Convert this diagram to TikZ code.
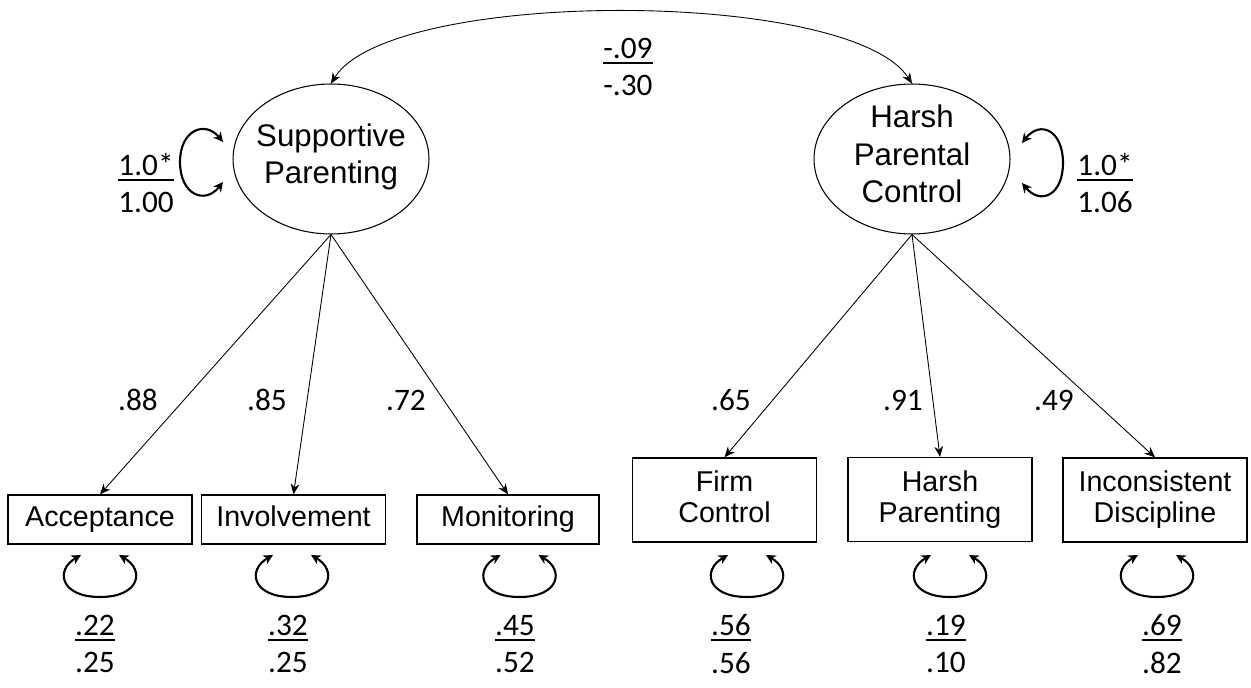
\documentclass[tikz,border=0pt]{standalone}
\usepackage{fontspec}
\setmainfont{Liberation Sans}
\newfontfamily\numfont{Carlito}
\usetikzlibrary{arrows.meta,calc,shapes.geometric}
\newcommand\estline[1]{\setbox0\hbox{#1}\rlap{\rule[-3.2pt]{\wd0}{1pt}}\box0}

\begin{document}
\begin{tikzpicture}[x=0.02cm,y=-0.02cm,>=Stealth,
    latent/.style={draw,ellipse,line width=0.6pt,minimum width=3.92cm,minimum height=3cm,inner sep=0pt},
    lattext/.style={align=center,font=\fontsize{17.8}{21.2}\selectfont},
    manifest/.style={draw,line width=0.7pt,minimum width=3.68cm,minimum height=0.98cm,inner sep=0pt,align=center,font=\fontsize{16.3}{17.6}\selectfont},
    oneline/.style={text height=12pt,text depth=3.5pt},
    est/.style={align=center,inner sep=0pt,font=\numfont\fontsize{17.8}{21.5}\selectfont},
    load/.style={-{Stealth[length=6pt,width=5pt]},line width=0.5pt},
    cov/.style={{Stealth[length=6pt,width=5pt]}-{Stealth[length=6pt,width=5pt]},line width=0.5pt},
    resvar/.style={{Stealth[length=5.5pt,width=5.5pt]}-{Stealth[length=5.5pt,width=5.5pt]},line width=1.2pt}]
    \useasboundingbox (0,0) rectangle (1251,688);
    % factors
    \node[latent] (sp) at (331,159) {};
    \node[lattext] (sptxt) at (331,157) {Supportive\\Parenting};
    \node[latent] (hpc) at (912,159) {};
    \node[lattext] (hpctxt) at (912,154) {Harsh\\Parental\\Control};
    % indicators
    \node[manifest,oneline] (acc) at (100,519.5) {Acceptance};
    \node[manifest,oneline] (inv) at (293.5,519.5) {Involvement};
    \node[manifest,oneline,minimum width=3.64cm] (mon) at (508,519.5) {Monitoring};
    \node[manifest,minimum height=1.68cm] (firm) at (724.5,500) {Firm\\Control\vphantom{g}};
    \node[manifest,minimum height=1.68cm] (hpar) at (940,499.5) {Harsh\\Parenting};
    \node[manifest,minimum height=1.68cm] (incd) at (1155,500) {Inconsistent\\Discipline};
    \foreach \a/\b in {sp/acc,sp/inv,sp/mon,hpc/firm,hpc/hpar,hpc/incd}{\draw[load] (\a.south)--(\b.north);}
    % loadings
    \node[est] (l1) at (138,400) {.88};
    \node[est] (l2) at (267,400) {.85};
    \node[est] (l3) at (406,400) {.72};
    \node[est] (l4) at (731,400) {.65};
    \node[est] (l5) at (903,400) {.91};
    \node[est] (l6) at (1054,400) {.49};
    % factor covariance and variances
    \draw[cov] (sp.north) .. controls (390,-12) and (850,-12) .. (hpc.north);
    \node[est] (c12) at (628,67) {\estline{-.09}\\-.30};
    \draw[resvar] (223,142) .. controls (205,120) and (180,130) .. (180,162) .. controls (180,195) and (205,205) .. (223,182);
    \node[est] (vsp) at (146,183) {\estline{1.0*}\\1.00};
    \draw[resvar] (1022,143) .. controls (1040,120) and (1063,130) .. (1063,163) .. controls (1063,196) and (1040,205) .. (1022,183);
    \node[est] (vhpc) at (1105,183) {\estline{1.0*}\\1.06};
    % residual variances
    \foreach \c/\l/\u/\v [count=\i] in {100/95/.22/.25,292/288/.32/.25,519.5/515/.45/.52,747/731/.56/.56,950/946/.19/.10,1157/1162/.69/.82}{
      \coordinate (e\i) at (\c,555);
      \draw[resvar] ($(e\i)+(-19,0)$) .. controls +(-26,15) and +(-40,0) .. ($(e\i)+(0,42)$) .. controls +(40,0) and +(26,15) .. ($(e\i)+(19,0)$);
      \node[est] (r\i) at (\l,644) {\estline{\u}\\\v};
    }
  \end{tikzpicture}
\end{document}
